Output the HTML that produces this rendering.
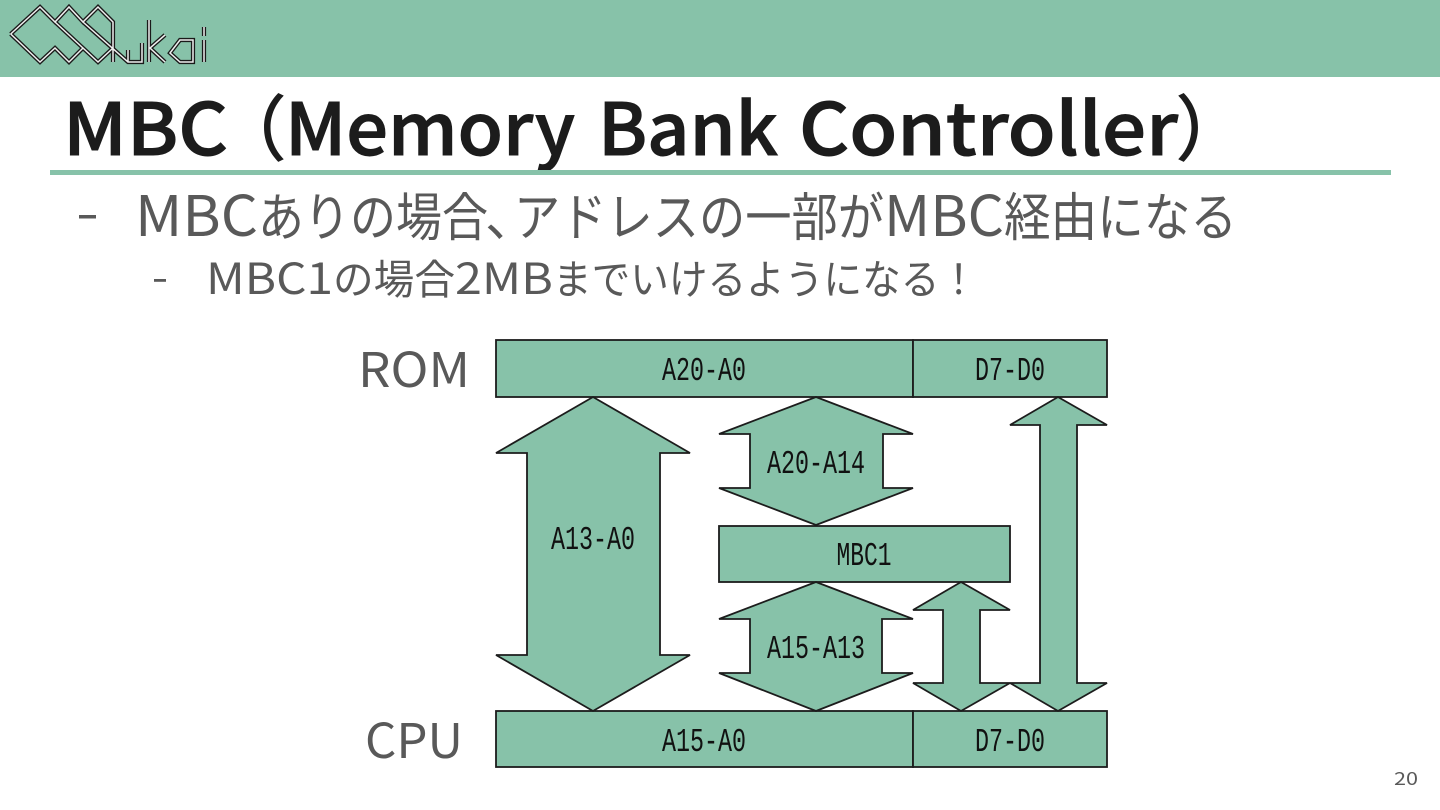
<!DOCTYPE html>
<html lang="ja"><head><meta charset="utf-8"><title>MBC</title>
<style>html,body{margin:0;padding:0;background:#fff}svg{display:block}
.n{font-family:"Noto Sans CJK JP","Liberation Sans",sans-serif}
.t{font-size:72px;font-weight:500;fill:#1c1c1c;stroke:#1c1c1c;stroke-width:1}
.p{font-size:72px;font-weight:500;fill:#1c1c1c}
.a{font-size:52px;font-weight:400;fill:#595959}
.al{font-size:56px;font-weight:400;fill:#595959}
.b{font-size:41px;font-weight:400;fill:#595959}
.bl{font-size:43px;font-weight:400;fill:#595959}
.m{font-family:"Liberation Mono",monospace;font-size:33px;fill:#111;text-anchor:middle}
</style></head><body>
<svg width="1440" height="810" viewBox="0 0 1440 810" xmlns="http://www.w3.org/2000/svg">
<rect width="1440" height="810" fill="#fff"/>
<rect width="1440" height="77" fill="#87c2a9"/>
<g fill="none" stroke-linejoin="miter">
<path stroke="#1a1a1a" stroke-width="4.2" d="M10.7 34L40 7L55 22L69 7L83 22L98 7L113 22V62M10.7 34L40 62L55 48L69 62L83 48L98 62L113 48M55 22L98 62M83 22L128 62H142V43M128 62V50M149 20V62M165 35L150 48L165 62M170 53L180 40H193V62H180L170 53ZM204 27V36M204 40V62"/>
<path stroke="#f0f0f0" stroke-width="1.5" d="M10.7 34L40 7L55 22L69 7L83 22L98 7L113 22V62M10.7 34L40 62L55 48L69 62L83 48L98 62L113 48M55 22L98 62M83 22L128 62H142V43M128 62V50M149 20V62M165 35L150 48L165 62M170 53L180 40H193V62H180L170 53ZM204 27V36M204 40V62"/>
</g>
<text x="63" y="155" class="n t" textLength="165" lengthAdjust="spacingAndGlyphs">MBC</text>
<text x="215" y="155" class="n p">（</text>
<text x="285" y="155" class="n t" textLength="290" lengthAdjust="spacingAndGlyphs">Memory</text>
<text x="598" y="155" class="n t" textLength="180" lengthAdjust="spacingAndGlyphs">Bank</text>
<text x="799" y="155" class="n t" textLength="379" lengthAdjust="spacingAndGlyphs">Controller</text>
<text x="1175" y="155" class="n p">）</text>
<rect x="50" y="170" width="1341" height="5" fill="#87c2a9"/>
<rect x="79" y="215" width="17" height="3.5" fill="#595959"/>
<text x="135" y="236" class="n al" textLength="123" lengthAdjust="spacingAndGlyphs">MBC</text>
<text x="258" y="236" class="n a" textLength="230" lengthAdjust="spacingAndGlyphs">ありの場合</text>
<text x="485" y="236" class="n a">、</text>
<text x="514" y="236" class="n a" textLength="370" lengthAdjust="spacingAndGlyphs">アドレスの一部が</text>
<text x="884" y="236" class="n al" textLength="120" lengthAdjust="spacingAndGlyphs">MBC</text>
<text x="1004" y="236" class="n a" textLength="233" lengthAdjust="spacingAndGlyphs">経由になる</text>
<rect x="154" y="279" width="12" height="2.8" fill="#595959"/>
<text x="206" y="294" class="n bl" textLength="127" lengthAdjust="spacingAndGlyphs">MBC1</text>
<text x="333" y="294" class="n b" textLength="122" lengthAdjust="spacingAndGlyphs">の場合</text>
<text x="455" y="294" class="n bl" textLength="98" lengthAdjust="spacingAndGlyphs">2MB</text>
<text x="553" y="294" class="n b" textLength="425" lengthAdjust="spacingAndGlyphs">までいけるようになる！</text>
<text x="358" y="387" class="n" font-size="48" fill="#595959" textLength="112" lengthAdjust="spacingAndGlyphs">ROM</text>
<text x="365" y="758" class="n" font-size="48" fill="#595959" textLength="98" lengthAdjust="spacingAndGlyphs">CPU</text>
<g fill="#87c2a9" stroke="#1c1c1c" stroke-width="1.8" stroke-linejoin="miter" stroke-miterlimit="3">
<rect x="496" y="340" width="417" height="57"/>
<rect x="913" y="340" width="194" height="57"/>
<rect x="496" y="711" width="417" height="56"/>
<rect x="913" y="711" width="194" height="56"/>
<rect x="719" y="526" width="291" height="56"/>
<polygon points="593,397 690,453 660,453 660,655 690,655 593,711 496,655 527,655 527,453 496,453"/>
<polygon points="816,397 913,434 883,434 883,488 913,488 816,525 719,488 750,488 750,434 719,434"/>
<polygon points="816,582 913,619 882,619 882,673 913,673 816,711 719,673 750,673 750,619 719,619"/>
<polygon points="961,582 1010,610 980,610 980,683 1010,683 961,711 913,683 943,683 943,610 913,610"/>
<polygon points="1058,397 1107,425 1077,425 1077,683 1107,683 1058,711 1010,683 1040,683 1040,425 1010,425"/>
</g>
<text x="704" y="380" class="m" textLength="84" lengthAdjust="spacingAndGlyphs">A20-A0</text>
<text x="1010" y="380" class="m" textLength="70" lengthAdjust="spacingAndGlyphs">D7-D0</text>
<text x="816" y="473" class="m" textLength="98" lengthAdjust="spacingAndGlyphs">A20-A14</text>
<text x="593" y="549" class="m" textLength="84" lengthAdjust="spacingAndGlyphs">A13-A0</text>
<text x="864" y="565" class="m" textLength="55" lengthAdjust="spacingAndGlyphs">MBC1</text>
<text x="816" y="658" class="m" textLength="98" lengthAdjust="spacingAndGlyphs">A15-A13</text>
<text x="704" y="751" class="m" textLength="84" lengthAdjust="spacingAndGlyphs">A15-A0</text>
<text x="1010" y="751" class="m" textLength="70" lengthAdjust="spacingAndGlyphs">D7-D0</text>
<text x="1394" y="785" class="n" font-size="18" fill="#595959" textLength="24" lengthAdjust="spacingAndGlyphs">20</text>
</svg>
</body></html>
